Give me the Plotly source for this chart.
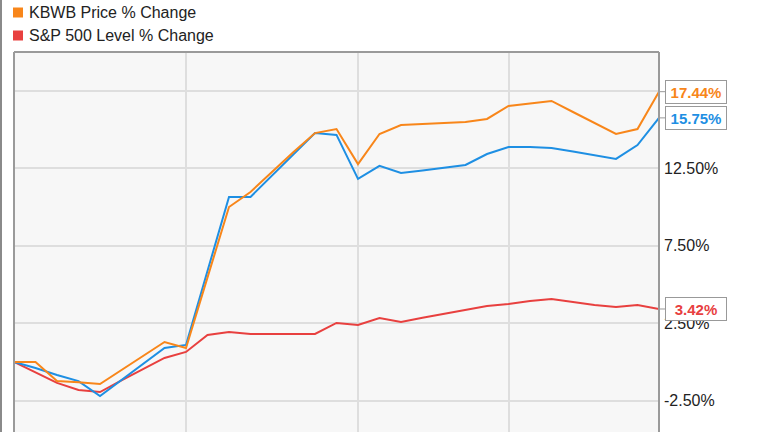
import plotly.graph_objects as go

# ---- data (weekly points, % change) ----
weeks = list(range(31))
kbwb = [0, 0, -1.23, -1.30, -1.42, -0.52, 0.39, 1.29, 0.90, 5.42, 10.00, 10.97,
        12.26, 13.55, 14.77, 15.03, 12.77, 14.71, 15.29, 15.35, 15.42, 15.48,
        15.68, 16.52, 16.68, 16.84, 16.13, 15.42, 14.71, 15.03, 17.44]
blue = [0, -0.39, -0.84, -1.23, -2.19, -1.16, -0.13, 0.90, 1.10, 5.80, 10.65, 10.65,
        12.03, 13.42, 14.77, 14.65, 11.81, 12.65, 12.19, 12.35, 12.52, 12.71,
        13.42, 13.87, 13.87, 13.81, 13.58, 13.32, 13.10, 14.00, 15.75]
sp500 = [0, -0.65, -1.35, -1.81, -1.94, -1.19, -0.45, 0.26, 0.65, 1.74, 1.94, 1.81,
         1.81, 1.81, 1.81, 2.52, 2.39, 2.84, 2.58, 2.85, 3.10, 3.35,
         3.61, 3.74, 3.94, 4.06, 3.87, 3.68, 3.55, 3.68, 3.42]
grid_weeks = [8, 16, 23]
y_ticks = [-2.5, 2.5, 7.5, 12.5, 17.5]
y_ticktext = ["-2.50%", "2.50%", "7.50%", "12.50%", ""]
legend_names = ["KBWB Price % Change", "S&P 500 Level % Change"]

ORANGE = "#f8861a"
BLUE = "#1e8fe3"
RED = "#e8403f"
FONT = "Liberation Sans, Arial, sans-serif"

W, H = 764, 432
L, R, T, B = 14, 105, 52, 0
PW, PH = W - L - R, H - T - B


def px(x):
    return (x - L) / PW


def py(y):
    return 1 - (y - T) / PH


fig = go.Figure()
for ys, col in [(sp500, RED), (blue, BLUE), (kbwb, ORANGE)]:
    fig.add_trace(go.Scatter(x=weeks, y=ys, mode="lines",
                             line=dict(color=col, width=2),
                             hoverinfo="skip", showlegend=False))

shapes = []
frame = "#9a9a9a"
shapes.append(dict(type="line", xref="paper", yref="paper", x0=0, x1=1, y0=1, y1=1,
                   line=dict(color=frame, width=2)))
shapes.append(dict(type="line", xref="paper", yref="paper", x0=0, x1=0, y0=0, y1=1,
                   line=dict(color=frame, width=2)))
shapes.append(dict(type="line", xref="paper", yref="paper", x0=1, x1=1, y0=0, y1=1,
                   line=dict(color=frame, width=2)))
shapes.append(dict(type="line", xref="paper", yref="paper", x0=px(1), x1=px(1),
                   y0=py(432), y1=py(0), line=dict(color="#8a8a8a", width=2)))

annotations = []
for i, (name, col) in enumerate(zip(legend_names, [ORANGE, RED])):
    cy = 12.5 + 23 * i
    shapes.append(dict(type="rect", xref="paper", yref="paper",
                       x0=px(13), x1=px(23), y0=py(cy - 5), y1=py(cy + 5),
                       fillcolor=col, line=dict(width=0)))
    annotations.append(dict(xref="paper", yref="paper", x=px(27), y=py(cy),
                            xanchor="left", yanchor="middle", showarrow=False,
                            text=name, font=dict(family=FONT, size=16, color="#222")))

for ys, col in [(kbwb, ORANGE), (blue, BLUE), (sp500, RED)]:
    v = ys[-1]
    annotations.append(dict(x=weeks[-1], y=v, xref="x", yref="y",
                            text="<b>%.2f%%</b>" % v,
                            font=dict(family=FONT, size=15, color=col),
                            showarrow=True, arrowhead=0, arrowwidth=1,
                            arrowcolor="#999", ax=6, ay=0, xanchor="left",
                            yanchor="middle",
                            bgcolor="white", bordercolor="#999", borderwidth=1,
                            borderpad=2, width=56, height=18, align="center"))

fig.update_layout(
    width=W, height=H,
    margin=dict(l=L, r=R, t=T, b=B, pad=0),
    paper_bgcolor="white", plot_bgcolor="#f7f7f7",
    showlegend=False,
    font=dict(family=FONT, size=16, color="#222"),
    xaxis=dict(range=[0, 30], tickvals=grid_weeks, showticklabels=False,
               showgrid=True, gridcolor="#dedede", gridwidth=2,
               zeroline=False, showline=False, ticks=""),
    yaxis=dict(range=[(362 - 432) / 15.5, (362 - 52) / 15.5], side="right",
               tickvals=y_ticks, ticktext=y_ticktext,
               showgrid=True, gridcolor="#dedede", gridwidth=2,
               zeroline=False, showline=False, ticks="",
               ticklabelstandoff=4,
               tickfont=dict(family=FONT, size=16, color="#222")),
    shapes=shapes, annotations=annotations,
)

fig.write_html("out.html", config={"displayModeBar": False},
               post_script="document.body.style.margin='0px';"
                           "document.body.style.overflow='hidden';")
